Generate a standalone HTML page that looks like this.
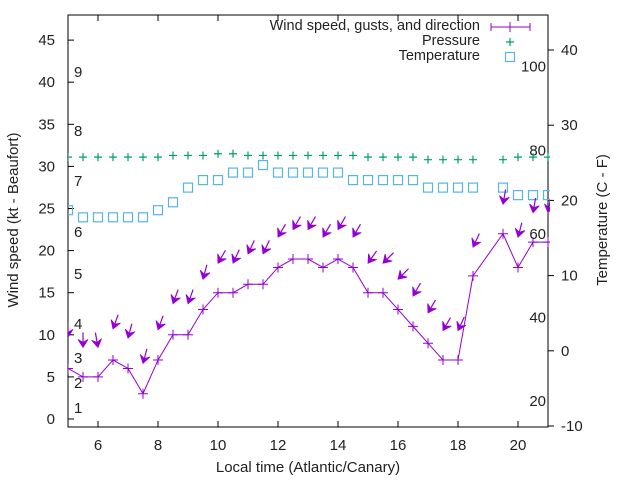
<!DOCTYPE html>
<html><head><meta charset="utf-8"><style>
html,body{margin:0;padding:0;background:#fff}
svg{display:block;font-family:"Liberation Sans",sans-serif}
</style></head><body>
<svg id="c" width="640" height="480" viewBox="0 0 640 480">
<g id="plot"></g>
</svg>
<script>
const times=[5,5.5,6,6.5,7,7.5,8,8.5,9,9.5,10,10.5,11,11.5,12,12.5,13,13.5,14,14.5,15,15.5,16,16.5,17,17.5,18,18.5,19.5,20,20.5,21];
const speed=[6,5,5,7,6,3,7,10,10,13,15,15,16,16,18,19,19,18,19,18,15,15,13,11,9,7,7,17,22,18,21,21];
const gust=[9.7,8.5,8.5,10.7,9.6,6.6,10.6,13.7,13.7,16.6,18.5,18.5,19.6,19.6,21.6,22.5,22.5,21.6,22.5,21.6,18.5,18.5,16.6,14.6,12.6,10.5,10.5,20.4,25.5,21.6,24.5,24.5];
const dir=[0,0,350,20,15,15,20,20,20,15,30,25,25,25,30,30,30,30,30,30,35,45,45,30,30,30,25,25,10,15,10,10];
const pressure=[31.1,31.1,31.1,31.1,31.1,31.1,31.1,31.3,31.3,31.3,31.5,31.5,31.3,31.3,31.3,31.3,31.3,31.3,31.3,31.3,31.1,31.1,31.1,31.1,30.8,30.8,30.8,30.8,30.8,31.1,31.1,31.1];
const tempC=[18.7,17.75,17.75,17.75,17.75,17.75,18.7,19.75,21.7,22.7,22.7,23.7,23.7,24.7,23.7,23.7,23.7,23.7,23.7,22.7,22.7,22.7,22.7,22.7,21.7,21.7,21.7,21.7,21.7,20.7,20.7,20.7];
const xTicks=[6,8,10,12,14,16,18,20];
const yTicks=[0,5,10,15,20,25,30,35,40,45];
const y2Ticks=[-10,0,10,20,30,40];
const fTicks=[20,40,60,80,100];
const bft=[[1,408],[2,383],[3,358],[4,324],[5,274],[6,232],[7,181],[8,131],[9,72]];

const L=68,R=548,T=15,B=427;
const X=t=>L+(t-5)*30;
const Y=v=>419-v*8.42;
const Y2=c=>426-(c+10)*7.52;
const NS="http://www.w3.org/2000/svg";
const g=document.getElementById('plot');
function el(tag,attrs,parent){const e=document.createElementNS(NS,tag);for(const k in attrs)e.setAttribute(k,attrs[k]);(parent||g).appendChild(e);return e;}
function txt(x,y,s,anchor,name,size){const e=el('text',{x:x,y:y,'text-anchor':anchor||'middle','font-size':size||15,fill:'#222'});e.textContent=s;return e;}

const fr=el('rect',{x:L,y:T,width:R-L,height:B-T,fill:'none',stroke:'#000','stroke-width':1});



xTicks.forEach(t=>{
  const a=el('line',{x1:X(t),y1:B,x2:X(t),y2:B-6,stroke:'#000'});
  
  
  const b=el('line',{x1:X(t),y1:T,x2:X(t),y2:T+6,stroke:'#000'});
  
  
  txt(X(t),450,String(t),'middle','x-tick-label');
});
yTicks.forEach(v=>{
  const a=el('line',{x1:L,y1:Y(v),x2:L+6,y2:Y(v),stroke:'#000'});
  
  
  txt(55,Y(v)+5,String(v),'end','y-tick-label');
});
y2Ticks.forEach(v=>{
  const a=el('line',{x1:R,y1:Y2(v),x2:R+6,y2:Y2(v),stroke:'#000'});
  
  
  txt(561,Y2(v)+5,String(v),'start','y2-tick-label');
});
fTicks.forEach(f=>{
  txt(546,Y2((f-32)*5/9)+5,String(f),'end','fahrenheit-label');
});
bft.forEach(b=>txt(74,b[1]+5,String(b[0]),'start','beaufort-label'));

txt(308,472,'Local time (Atlantic/Canary)','middle','x-axis-title');
const yt=txt(0,0,'Wind speed (kt - Beaufort)','middle','y-axis-title');
yt.setAttribute('transform','translate(18,220) rotate(-90)');
const yt2=txt(0,0,'Temperature (C - F)','middle','y2-axis-title');
yt2.setAttribute('transform','translate(607,220) rotate(-90)');

const clip=el('clipPath',{id:'cp'});
el('rect',{x:L,y:T,width:R-L+2,height:B-T},clip);
const pg=el('g',{'clip-path':'url(#cp)'});



tempC.forEach((c,i)=>{
  const r=el('rect',{x:X(times[i])-4.5,y:Y2(c)-4.5,width:9,height:9,fill:'none',stroke:'#56b4e9','stroke-width':1.2},pg);
  
  
});
pressure.forEach((p,i)=>{
  const x=X(times[i]),y=Y(p);
  const e=el('path',{d:`M${x-4} ${y}H${x+4}M${x} ${y-4}V${y+4}`,stroke:'#009e73','stroke-width':1.2},pg);
  
  
});
let d='';
times.forEach((t,i)=>{d+=(i===0?'M':'L')+X(t)+' '+Y(speed[i]);});
d+='L'+(R+5)+' '+Y(speed[speed.length-1]);
const wl=el('path',{d:d,fill:'none',stroke:'#9400d3','stroke-width':1},pg);


speed.forEach((s,i)=>{
  const x=X(times[i]),y=Y(s);
  const e=el('path',{d:`M${x-5} ${y}H${x+5}M${x} ${y-5}V${y+5}`,stroke:'#9400d3','stroke-width':1},pg);
  
  
});
gust.forEach((v,i)=>{
  const x=X(times[i]),y=Y(v);
  const a=dir[i]*Math.PI/180,len=15;
  const tx=x+len*Math.sin(a),ty=y-len*Math.cos(a);
  const ux=(x-tx)/len,uy=(y-ty)/len;
  const hl=8,hw=5;
  const bx=x-ux*hl,by=y-uy*hl;
  const grp=el('g',{},pg);
  
  
  el('line',{x1:tx,y1:ty,x2:bx+ux*3,y2:by+uy*3,stroke:'#9400d3','stroke-width':1.2},grp);
  el('path',{d:`M${x} ${y}L${bx-uy*hw} ${by+ux*hw}L${bx+ux*3} ${by+uy*3}L${bx+uy*hw} ${by-ux*hw}Z`,fill:'#9400d3',stroke:'#9400d3','stroke-width':0.8},grp);
});

const lg=el('g',{});


txt(480,30,'Wind speed, gusts, and direction','end','legend-wind-label').setAttribute('font-size','14.5');
txt(480,45,'Pressure','end','legend-pressure-label').setAttribute('font-size','14.5');
txt(480,60,'Temperature','end','legend-temperature-label').setAttribute('font-size','14.5');
el('path',{d:'M491 27H530M491 23V31M530 23V31M510 22V32',stroke:'#9400d3','stroke-width':1},lg);
el('path',{d:'M506 42H514M510 38V46',stroke:'#009e73','stroke-width':1.2},lg);
el('rect',{x:505.5,y:52.5,width:9,height:9,fill:'none',stroke:'#56b4e9','stroke-width':1.2},lg);
</script>
</body></html>
